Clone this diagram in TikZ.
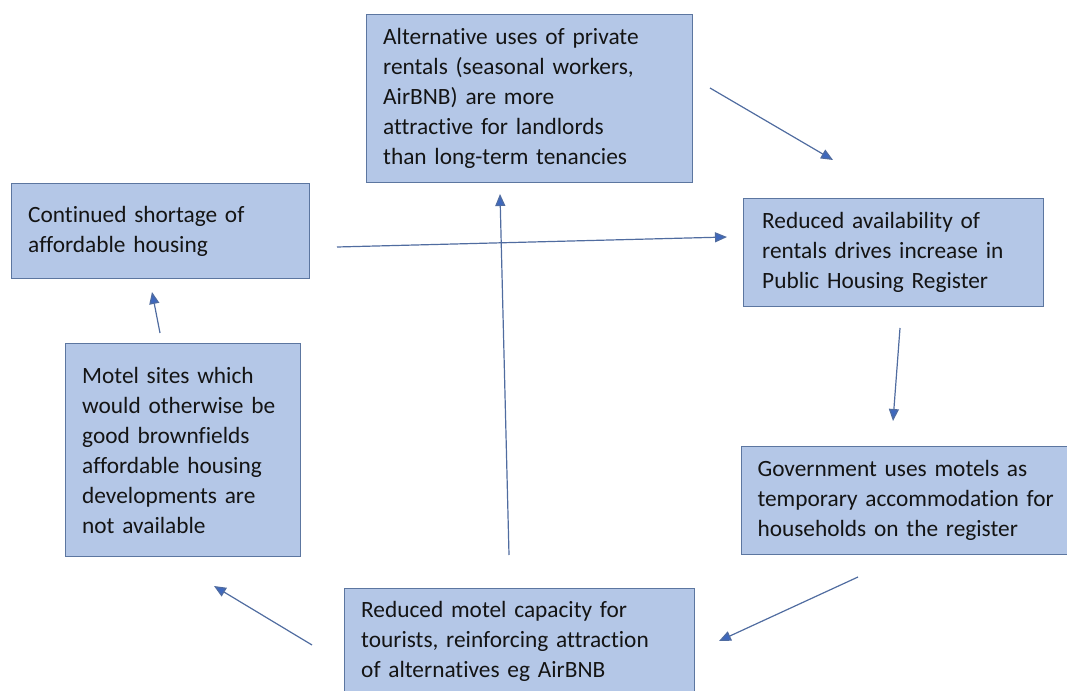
\documentclass[tikz,border=0pt]{standalone}
\usepackage{fontspec}
\setmainfont{Carlito}[Ligatures=NoCommon]
\usetikzlibrary{arrows.meta}
\definecolor{boxfill}{RGB}{180,199,231}
\definecolor{boxline}{RGB}{92,118,160}
\definecolor{flowline}{RGB}{80,108,160}
\definecolor{flowhead}{RGB}{62,104,190}
\newcommand{\boxtext}{\fontsize{17.5pt}{22.5pt}\selectfont}

\begin{document}
\begin{tikzpicture}[x=0.75pt, y=-0.75pt, >={Triangle[length=9pt, width=7.5pt, fill=flowhead]},
    cause/.style={draw=boxline, fill=boxfill, line width=0.8pt, anchor=north west,
        inner xsep=12.5pt, inner ysep=0pt, align=left, text=black!92,
        font=\boxtext},
    flow/.style={->, draw=flowline, line width=0.9pt, shorten >=0pt}]
    \useasboundingbox (0,0) rectangle (1067,691);

    % the six stages of the loop
    \node[cause, minimum width=244.5pt, minimum height=126pt, text width=219.5pt] (alt) at (366,14)
        {Alternative uses of private\\rentals (seasonal workers,\\AirBNB) are more\\attractive for landlords\\than long-term tenancies};
    \node[cause, minimum width=223.5pt, minimum height=71.25pt, text width=198.5pt] (short) at (11,183)
        {Continued shortage of\\affordable housing\\[8pt]};
    \node[cause, minimum width=224.25pt, minimum height=81pt, text width=197pt, inner xsep=14pt] (avail) at (743,198)
        {Reduced availability of\\rentals drives increase in\\Public Housing Register};
    \node[cause, minimum width=176.25pt, minimum height=159.75pt, text width=151.25pt] (motel) at (65,343)
        {Motel sites which\\would otherwise be\\good brownfields\\affordable housing\\developments are\\not available\\[6pt]};
    \node[cause, minimum height=81pt, text width=240pt, inner xsep=12pt] (govt) at (741,446)
        {Government uses motels as\\temporary accommodation for\\households on the register};
    \node[cause, minimum width=262.5pt, minimum height=79.5pt, text width=237.5pt] (cap) at (344,588)
        {Reduced motel capacity for\\tourists, reinforcing attraction\\of alternatives eg AirBNB};

    % arrow ends
    \coordinate (altS) at (710,88);
    \coordinate (altE) at (833,160);
    \coordinate (shortS) at (337,247);
    \coordinate (shortE) at (727,237);
    \coordinate (availS) at (900,328);
    \coordinate (availE) at (893,421);
    \coordinate (govtS) at (858,577);
    \coordinate (govtE) at (719,641);
    \coordinate (capS) at (312,645);
    \coordinate (capE) at (214,586);
    \coordinate (capUpS) at (509,555);
    \coordinate (capUpE) at (500,194);
    \coordinate (motelS) at (160,333);
    \coordinate (motelE) at (152,292);

    \draw[flow] (altS) -- (altE);
    \draw[flow] (shortS) -- (shortE);
    \draw[flow] (availS) -- (availE);
    \draw[flow] (govtS) -- (govtE);
    \draw[flow] (capS) -- (capE);
    \draw[flow] (capUpS) -- (capUpE);
    \draw[flow] (motelS) -- (motelE);
\end{tikzpicture}
\end{document}
